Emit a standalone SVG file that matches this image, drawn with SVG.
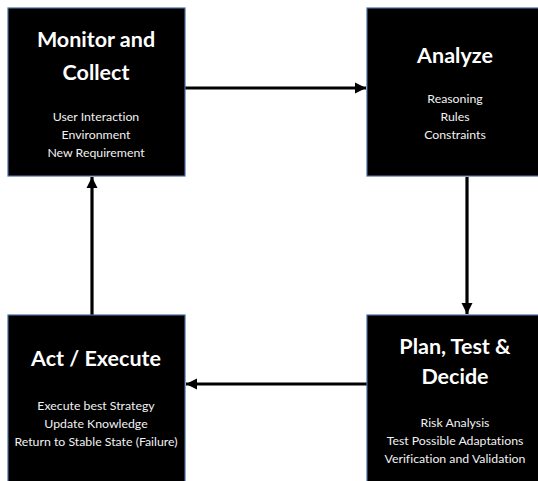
<svg xmlns="http://www.w3.org/2000/svg" width="538" height="481" viewBox="0 0 538 481">
  <style>
    .box { fill: #000000; stroke: #4a6c9b; stroke-width: 1.2; }
    .title { font-family: "Lato", "Liberation Sans", sans-serif; font-weight: bold; font-size: 21.5px; fill: #ffffff; text-anchor: middle; font-variant-ligatures: none; }
    .item { font-family: "Lato", "Liberation Sans", sans-serif; font-size: 12.3px; fill: #f2f2f2; text-anchor: middle; font-variant-ligatures: none; }
    .link { stroke: #000000; stroke-width: 3.2; fill: none; marker-end: url(#head); }
  </style>
  <defs>
    <marker id="head" markerUnits="userSpaceOnUse" markerWidth="12" markerHeight="12" viewBox="0 0 12 12" refX="11" refY="6" orient="auto">
      <path d="M0,0.5 L11,6 L0,11.5 Z" fill="#000000"/>
    </marker>
  </defs>
  <rect width="538" height="481" fill="#ffffff"/>

  <g id="connectors">
    <line class="link" x1="185" y1="88" x2="366" y2="88"/>
    <line class="link" x1="467" y1="177" x2="467" y2="314"/>
    <line class="link" x1="367" y1="384" x2="186" y2="384"/>
    <line class="link" x1="92" y1="315" x2="92" y2="177"/>
  </g>

  <g id="monitor">
    <rect class="box" x="8" y="8" width="177" height="168"/>
    <text class="title" x="96" y="47">Monitor and</text>
    <text class="title" x="96" y="80">Collect</text>
    <text class="item" x="96" y="121">User Interaction</text>
    <text class="item" x="96" y="139">Environment</text>
    <text class="item" x="96" y="157">New Requirement</text>
  </g>

  <g id="analyze">
    <rect class="box" x="367" y="8" width="177" height="168"/>
    <text class="title" x="455" y="63">Analyze</text>
    <text class="item" x="455" y="103">Reasoning</text>
    <text class="item" x="455" y="121">Rules</text>
    <text class="item" x="455" y="139">Constraints</text>
  </g>

  <g id="act">
    <rect class="box" x="8" y="315" width="177" height="170"/>
    <text class="title" x="96" y="366">Act / Execute</text>
    <text class="item" x="96" y="410">Execute best Strategy</text>
    <text class="item" x="96" y="428">Update Knowledge</text>
    <text class="item" x="96" y="446">Return to Stable State (Failure)</text>
  </g>

  <g id="plan">
    <rect class="box" x="367" y="315" width="177" height="170"/>
    <text class="title" x="455" y="354">Plan, Test &amp;</text>
    <text class="title" x="455" y="384">Decide</text>
    <text class="item" x="455" y="427">Risk Analysis</text>
    <text class="item" x="455" y="445">Test Possible Adaptations</text>
    <text class="item" x="455" y="463">Verification and Validation</text>
  </g>
</svg>
